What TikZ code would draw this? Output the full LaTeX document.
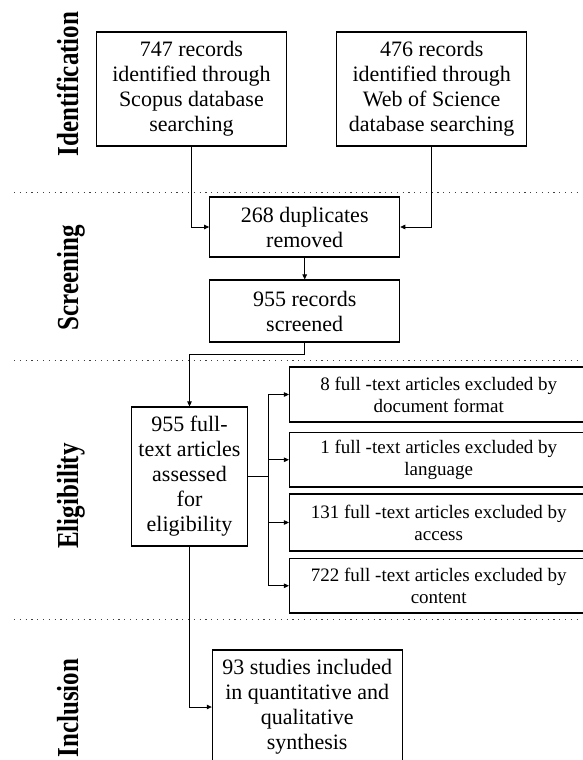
\documentclass[tikz,border=0pt]{standalone}
\usepackage{fontspec}
\setmainfont{Liberation Serif}
\usetikzlibrary{arrows.meta}
\begin{document}
\begin{tikzpicture}[x=1pt,y=-1pt,
  box/.style={draw=black,line width=1.1pt,inner sep=0pt,align=center,
    font=\fontsize{22}{25}\selectfont},
  sidebox/.style={draw=black,line width=1.1pt,inner sep=0pt,align=center,
    minimum width=298.5pt,font=\fontsize{19}{22}\selectfont},
  conn/.style={line width=0.8pt,draw=black},
  arr/.style={conn,-{Triangle[length=5pt,width=4.5pt]}},
  sep/.style={line width=1pt,draw=black!75,dash pattern=on 1.2pt off 4.6pt},
  phase/.style={rotate=90,anchor=base,inner sep=0pt,
    font=\bfseries\fontsize{25}{25}\selectfont}]
\useasboundingbox (0,0) rectangle (582,760);

% phase labels
\node[phase] (lid) at (78,84) {\scalebox{1}[1.22]{Identification}};
\node[phase] (lsc) at (78,278) {\scalebox{1}[1.22]{Screening}};
\node[phase] (lel) at (78,496) {\scalebox{1}[1.22]{Eligibility}};
\node[phase] (lin) at (78,708) {\scalebox{1}[1.22]{Inclusion}};

% separators
\coordinate (s1a) at (14,192); \coordinate (s1b) at (582,192);
\coordinate (s2a) at (14,360); \coordinate (s2b) at (582,360);
\coordinate (s3a) at (14,619); \coordinate (s3b) at (582,619);
\draw[sep] (s1a) -- (s1b);
\draw[sep] (s2a) -- (s2b);
\draw[sep] (s3a) -- (s3b);

% boxes
\node[box,minimum width=189.7pt,minimum height=114pt] (b1) at (191.4,89)
  {747 records\\identified through\\Scopus database\\searching};
\node[box,minimum width=190pt,minimum height=114pt] (b2) at (431.7,89)
  {476 records\\identified through\\Web of Science\\database searching};
\node[box,minimum width=190pt,minimum height=60pt] (b3) at (304.7,227)
  {268 duplicates\\removed};
\node[box,minimum width=190pt,minimum height=62pt] (b4) at (304.7,311)
  {955 records\\screened};
\node[box,minimum width=115.4pt,minimum height=139pt] (b5) at (189.5,476.5)
  {955 full-\\text articles\\assessed\\for\\eligibility};
\node[sidebox,minimum height=55pt] (e1) at (438.75,394.5)
  {8 full -text articles excluded by\\document format};
\node[sidebox,minimum height=54.5pt] (e2) at (438.75,459.75)
  {1 full -text articles excluded by\\language};
\node[sidebox,minimum height=57pt] (e3) at (438.75,522.5)
  {131 full -text articles excluded by\\access};
\node[sidebox,minimum height=54.5pt] (e4) at (438.75,585.75)
  {722 full -text articles excluded by\\content};
\node[box,minimum width=189.7pt,minimum height=114pt] (b6) at (307.2,707)
  {93 studies included\\in quantitative and\\qualitative\\synthesis};

% connectors
\draw[arr] (b1.south) |- (b3.west);
\draw[arr] (b2.south) |- (b3.east);
\draw[arr] (b3.south) -- (b4.north);
\coordinate (k1) at (304.7,354);
\coordinate (k2) at (189.5,354);
\draw[arr] (b4.south) -- (k1) -- (k2) -- (b5.north);
\coordinate (tr) at (268,476.5);
\coordinate (tt) at (268,394.5);
\coordinate (tb) at (268,585.75);
\draw[conn] (b5.east) -- (tr);
\draw[conn] (tt) -- (tb);
\draw[arr] (tt) -- (e1.west);
\draw[arr] (tt |- e2.west) -- (e2.west);
\draw[arr] (tt |- e3.west) -- (e3.west);
\draw[arr] (tb) -- (e4.west);
\draw[arr] (b5.south) |- (b6.west);
\end{tikzpicture}
\end{document}
